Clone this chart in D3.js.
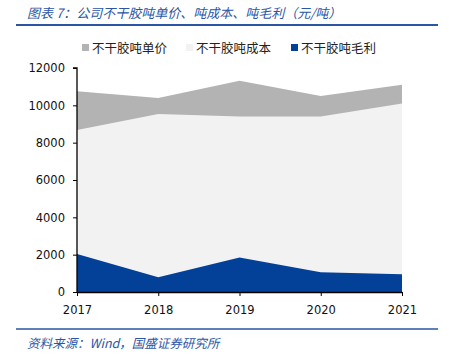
<!DOCTYPE html>
<html>
<head>
<meta charset="utf-8">
<script src="https://cdn.jsdelivr.net/npm/d3@7"></script>
<style>
	body { margin: 0; background: #fff; }
	svg { display: block; }
</style>
</head>
<body>
<div id="chart"></div>
<script>
const years = ["2017", "2018", "2019", "2020", "2021"];
const price = [10760, 10390, 11320, 10500, 11100];
const cost = [8680, 9540, 9400, 9400, 10100];
const margin = [2030, 790, 1850, 1060, 950];
const yTicks = [0, 2000, 4000, 6000, 8000, 10000, 12000];

const seriesNames = ["不干胶吨单价", "不干胶吨成本", "不干胶吨毛利"];
const seriesData = [price, cost, margin];
const colors = ["#b3b3b3", "#f2f2f2", "#034098"];

const width = 449, height = 364;
const blue = "#2a56a5";
const cjk = "'Noto Sans CJK SC', sans-serif";
const num = "'DejaVu Sans', Verdana, sans-serif";

const svg = d3.select("#chart").append("svg")
	.attr("width", width)
	.attr("height", height);

// title
svg.append("text")
	.attr("x", 27)
	.attr("y", 18)
	.attr("fill", blue)
	.style("font-family", cjk)
	.style("font-size", "13px")
	.style("font-style", "italic")
	.text("图表 7：公司不干胶吨单价、吨成本、吨毛利（元/吨）");

svg.append("line")
	.attr("x1", 16).attr("x2", 438)
	.attr("y1", 25).attr("y2", 25)
	.attr("stroke", blue)
	.attr("stroke-width", 2);

// legend
const legendX = [82, 186, 291];
const legend = svg.selectAll(".legend")
	.data(seriesNames)
	.enter()
	.append("g")
	.attr("class", "legend")
	.attr("transform", (d, i) => `translate(${legendX[i]}, 48)`);
legend.append("rect")
	.attr("x", 0).attr("y", -4)
	.attr("width", 7).attr("height", 7)
	.attr("fill", (d, i) => colors[i]);
legend.append("text")
	.attr("x", 10)
	.attr("y", 4.5)
	.attr("fill", "#222")
	.style("font-family", cjk)
	.style("font-size", "12.5px")
	.text((d) => d);

// scales
const xScale = d3.scalePoint().domain(years).range([77, 402]);
const yScale = d3.scaleLinear().domain([0, 12000]).range([292, 68]);

const area = d3.area()
	.x((d, i) => xScale(years[i]))
	.y0(yScale(0))
	.y1((d) => yScale(d));

svg.selectAll(".area")
	.data(seriesData)
	.enter()
	.append("path")
	.attr("class", "area")
	.attr("d", (d) => area(d))
	.attr("fill", (d, i) => colors[i]);

// axes
const yAxis = d3.axisLeft(yScale).tickValues(yTicks).tickSize(4).tickPadding(8).tickFormat(d3.format("d"));
const gy = svg.append("g")
	.attr("transform", `translate(${xScale(years[0])}, 0)`)
	.call(yAxis);
gy.select(".domain").attr("stroke", "#000").attr("stroke-width", 1.3)
	.attr("d", `M-4,${yScale(12000)}H0V${yScale(0)}`);

const xAxis = d3.axisBottom(xScale).tickSize(4).tickPadding(10).tickSizeOuter(0);
const gx = svg.append("g")
	.attr("transform", `translate(0, ${yScale(0)})`)
	.call(xAxis);
gx.select(".domain").attr("stroke", "#000").attr("stroke-width", 1.3);

svg.selectAll(".tick text")
	.attr("fill", "#111")
	.style("font-family", num)
	.style("font-size", "11.5px");
svg.selectAll(".tick line").attr("stroke", "#000");

// source
svg.append("line")
	.attr("x1", 16).attr("x2", 438)
	.attr("y1", 329).attr("y2", 329)
	.attr("stroke", blue)
	.attr("stroke-width", 1.5);

svg.append("text")
	.attr("x", 27)
	.attr("y", 348)
	.attr("fill", blue)
	.style("font-family", cjk)
	.style("font-size", "12.5px")
	.style("font-style", "italic")
	.text("资料来源：Wind，国盛证券研究所");
</script>
</body>
</html>
